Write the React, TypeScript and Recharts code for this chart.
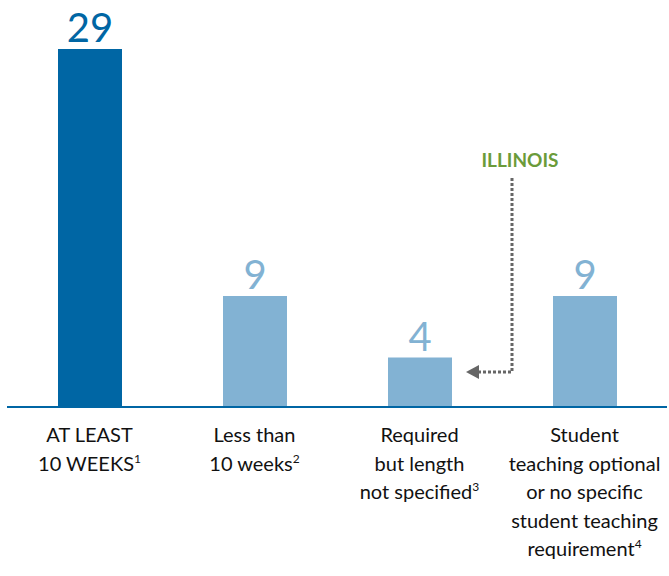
import React from "react";
import { BarChart, Bar, XAxis, YAxis, Cell, LabelList, Customized } from "recharts";

const categories = ["cat1", "cat2", "cat3", "cat4"];
const values = [29, 9, 4, 9];
const tickLines: { text: string; sup?: string }[][] = [
  [{ text: "AT LEAST" }, { text: "10 WEEKS", sup: "1" }],
  [{ text: "Less than" }, { text: "10 weeks", sup: "2" }],
  [{ text: "Required" }, { text: "but length" }, { text: "not specified", sup: "3" }],
  [
    { text: "Student" },
    { text: "teaching optional" },
    { text: "or no specific" },
    { text: "student teaching" },
    { text: "requirement", sup: "4" },
  ],
];
const barColors = ["#0066a4", "#82b2d3", "#82b2d3", "#82b2d3"];
const annotationText = "ILLINOIS";

const data = categories.map((c, i) => ({ name: c, value: values[i], idx: i }));

const FONT = "Lato, 'Open Sans', sans-serif";

const Tick = (props: any) => {
  const { x, y, payload } = props;
  const i = categories.indexOf(payload.value);
  const lines = tickLines[i] || [];
  return (
    <g>
      {lines.map((ln, k) => (
        <text
          key={k}
          x={x}
          y={y + 27 + k * 28.6}
          textAnchor="middle"
          fontFamily={FONT}
          fontSize={20}
          fill="#111"
        >
          <tspan>{ln.text}</tspan>
          {ln.sup ? (
            <tspan fontSize={12} dy={-8}>
              {ln.sup}
            </tspan>
          ) : null}
        </text>
      ))}
    </g>
  );
};

const ValueLabel = (props: any) => {
  const { x, y, width, value, index } = props;
  return (
    <text
      x={x + width / 2}
      y={y - 7}
      textAnchor="middle"
      fontFamily={FONT}
      fontSize={40}
      fill={barColors[index]}
    >
      {value}
    </text>
  );
};

const Annotation = () => (
  <g>
    <text
      x={520}
      y={167}
      textAnchor="middle"
      fontFamily={FONT}
      fontWeight="bold"
      fontSize={19}
      fill="#6b9b3a"
    >
      {annotationText}
    </text>
    <path
      d="M512,178 L512,372 L479,372"
      fill="none"
      stroke="#666"
      strokeWidth={3}
      strokeDasharray="3 2"
    />
    <path d="M466,372 L479,365 L479,379 Z" fill="#666" />
  </g>
);

export default function App() {
  return (
    <div style={{ position: "absolute", left: 0, top: 0, background: "#fff" }}>
      <BarChart
        width={669}
        height={576}
        data={data}
        margin={{ top: 49, right: 2, bottom: 0, left: 7 }}
        barCategoryGap={0}
      >
        <XAxis
          dataKey="name"
          axisLine={{ stroke: "#0066a4", strokeWidth: 2 }}
          tickLine={false}
          tick={<Tick />}
          height={169}
          interval={0}
        />
        <YAxis hide domain={[0, 29]} />
        <Bar dataKey="value" barSize={64} isAnimationActive={false}>
          {data.map((d, i) => (
            <Cell key={i} fill={barColors[i]} />
          ))}
          <LabelList dataKey="value" content={<ValueLabel />} />
        </Bar>
        <Customized component={Annotation} />
      </BarChart>
    </div>
  );
}
